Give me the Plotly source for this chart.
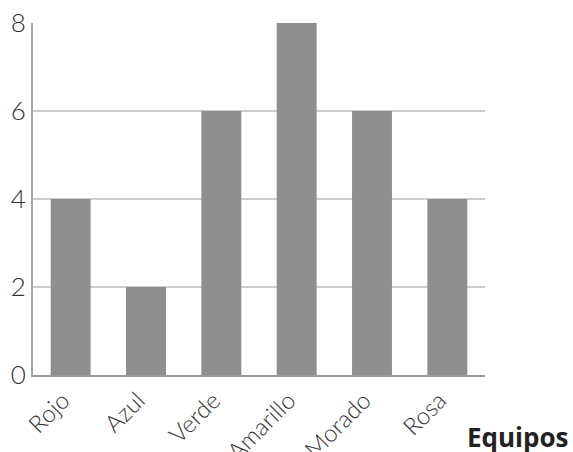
import plotly.graph_objects as go

categories = ["Rojo", "Azul", "Verde", "Amarillo", "Morado", "Rosa"]
values = [4, 2, 6, 8, 6, 4]
y_ticks = [0, 2, 4, 6, 8]
x_title = "Equipos"

fig = go.Figure()
fig.add_trace(go.Bar(
    x=categories, y=values,
    marker=dict(color="#8e8e8e", line=dict(width=0)),
    width=0.53,
))

fig.update_layout(
    width=573, height=452,
    margin=dict(l=33, r=88, t=23, b=77),
    paper_bgcolor="white", plot_bgcolor="white",
    showlegend=False,
    font=dict(family="Lato", color="#333333"),
    xaxis=dict(
        range=[-0.5, 5.5],
        tickangle=-45,
        tickfont=dict(size=24, family="Lato", color="#333333", weight=300),
        showline=True, linecolor="#9a9a9a", linewidth=2,
        showgrid=False, ticks="", automargin=False,
        ticklabelshift=-8, ticklabelstandoff=0,
    ),
    yaxis=dict(
        range=[0, 8],
        tickvals=y_ticks,
        tickfont=dict(size=26, family="Lato", color="#333333", weight=300),
        showline=True, linecolor="#a8a8a8", linewidth=2,
        showgrid=True, gridcolor="#cccccc", gridwidth=2,
        zeroline=False, ticks="", ticklabelstandoff=0, automargin=False,
    ),
    annotations=[dict(
        text="<b>" + x_title + "</b>",
        xref="paper", yref="paper", x=1.19, y=-0.12,
        xanchor="right", yanchor="top", showarrow=False,
        font=dict(size=26, family="Open Sans", color="#222222"),
    )],
)

fig.write_html("out.html")
